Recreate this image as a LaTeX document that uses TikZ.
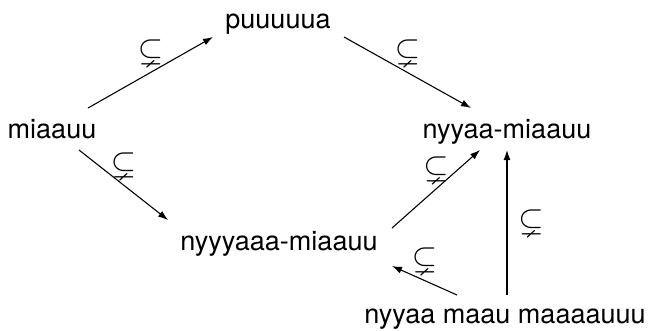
\documentclass[tikz,border=0pt]{standalone}
\usepackage{amssymb}
\usepackage{fontspec}
\setmainfont{TeX Gyre Heros}
\usetikzlibrary{arrows.meta,positioning}

\begin{document}
\begin{tikzpicture}[
      x=0.013cm,y=-0.013cm,
      word/.style={anchor=base,inner sep=0pt,font=\normalsize},
      arrow/.style={-{Latex[length=1.3mm,width=0.9mm]},line width=0.4pt},
      rel/.style={midway,above,inner sep=2.5pt,font=\large}
    ]
      \useasboundingbox (0,0) rectangle (651,330);
      \node[word] (miaauu) at (52,138) {miaauu};
      \node[word] (puuuuua) at (278,28) {puuuuua};
      \node[word] (nyyamiaauu) at (507,138) {nyyaa-miaauu};
      \node[word] (nyyyaaamiaauu) at (279,250) {nyyyaaa-miaauu};
      \node[word] (maaaauuu) at (505,323) {nyyaa maau maaaauuu};
      \draw[arrow] ([shift={(36,-30)}]miaauu.base) -- ([shift={(-65,9)}]puuuuua.base)
        node[rel] (r1) {$\subsetneq$};
      \draw[arrow] ([shift={(66,9)}]puuuuua.base) -- ([shift={(-36,-30)}]nyyamiaauu.base)
        node[rel] (r2) {$\subsetneq$};
      \draw[arrow] ([shift={(27,12)}]miaauu.base) -- ([shift={(-111,-30)}]nyyyaaamiaauu.base)
        node[rel] (r3) {$\subsetneq$};
      \draw[arrow] ([shift={(113,-22)}]nyyyaaamiaauu.base) -- ([shift={(-27,12)}]nyyamiaauu.base)
        node[rel] (r4) {$\subsetneq$};
      \draw[arrow] ([shift={(2,-28)}]maaaauuu.base) -- ([shift={(0,12)}]nyyamiaauu.base)
        node[rel,right=1.5pt] (r5) {$\subsetneq$};
      \draw[arrow] ([shift={(-48,-28)}]maaaauuu.base) -- ([shift={(113,16)}]nyyyaaamiaauu.base)
        node[rel] (r6) {$\subsetneq$};
    \end{tikzpicture}
\end{document}
